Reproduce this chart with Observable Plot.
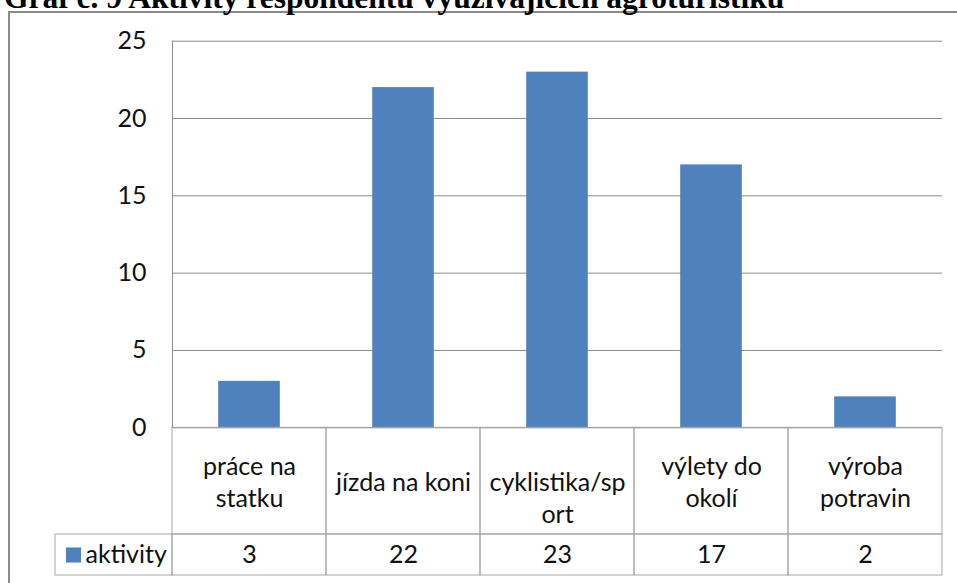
<!DOCTYPE html>
<html>
<head>
<meta charset="utf-8">
<script src="https://cdn.jsdelivr.net/npm/d3@7"></script>
<script src="https://cdn.jsdelivr.net/npm/@observablehq/plot@0.6"></script>
<style>
  html, body { margin: 0; padding: 0; background: #fff; overflow: hidden; width: 957px; height: 583px; }
  #title { position: absolute; left: 4px; top: -18px; font-family: "Liberation Serif", serif; font-weight: bold; font-size: 31.5px; line-height: 1; white-space: nowrap; color: #000; z-index: 2; }
  #frame { position: absolute; left: 8px; top: 11px; width: 1100px; height: 700px; border-left: 2px solid #8a8a8a; border-top: 2px solid #8a8a8a; }
  #chart { position: absolute; left: 0; top: 0; }
</style>
</head>
<body>
<div id="frame"></div>
<div id="title">Graf č. 9 Aktivity respondentů využívajících agroturistiku</div>
<div id="chart"></div>
<script>
const categories = ["práce na statku", "jízda na koni", "cyklistika/sport", "výlety do okolí", "výroba potravin"];
const categoryLabels = ["práce na\nstatku", "jízda na koni", "\ncyklistika/sp\nort", "výlety do\nokolí", "výroba\npotravin"];
const values = [3, 22, 23, 17, 2];
const seriesName = "aktivity";
const yTicks = [0, 5, 10, 15, 20, 25];

const rows = categories.map((c, i) => ({cat: c, label: categoryLabels[i], value: values[i]}));

const barColor = "#4F81BD";
const gridColor = "#8c8c8c";
const tableColor = "#a6a6a6";

const W = 957, H = 583;
const mTop = 40.7, mBottom = 155.7, mLeft = 172, mRight = 15;
const catRowH = 106.7, dataRowH = 41, legendW = 117;
const bw = (W - mLeft - mRight) / categories.length;

const plot = Plot.plot({
  width: W,
  height: H,
  marginTop: mTop,
  marginBottom: mBottom,
  marginLeft: mLeft,
  marginRight: mRight,
  style: {fontFamily: "Lato", fontSize: "25px", background: "transparent", overflow: "visible", color: "#111"},
  x: {domain: categories, padding: 0, axis: null},
  y: {domain: [0, 25], ticks: yTicks, tickSize: 0, tickPadding: 26, label: null, tickFormat: d => String(d)},
  marks: [
    Plot.ruleY(yTicks, {stroke: gridColor, strokeWidth: 1}),
    Plot.barY(rows, {x: "cat", y: "value", fill: barColor, insetLeft: bw * 0.3, insetRight: bw * 0.3}),
    // table: category row
    Plot.barY(rows, {x: "cat", y1: 0, y2: 0, insetBottom: -catRowH, fill: "none", stroke: tableColor}),
    // table: data row
    Plot.barY(rows, {x: "cat", y1: 0, y2: 0, insetTop: catRowH, insetBottom: -(catRowH + dataRowH), fill: "none", stroke: tableColor}),
    // legend cell
    Plot.barY([categories[0]], {x: d => d, y1: 0, y2: 0, insetTop: catRowH, insetBottom: -(catRowH + dataRowH), insetLeft: -legendW, insetRight: bw, fill: "none", stroke: tableColor}),
    // left vertical axis line
    Plot.ruleX([categories[0]], {dx: -bw / 2, stroke: gridColor}),
    Plot.text(rows, {x: "cat", text: "label", frameAnchor: "bottom", dy: catRowH / 2, lineAnchor: "middle", lineHeight: 1.28, fill: "#111"}),
    Plot.text(rows, {x: "cat", text: d => String(d.value), frameAnchor: "bottom", dy: catRowH + dataRowH / 2, lineAnchor: "middle", fill: "#111"}),
    Plot.dot([seriesName], {frameAnchor: "bottom-left", dx: -99, dy: catRowH + dataRowH / 2, symbol: "square", r: 8.5, fill: barColor, stroke: "none"}),
    Plot.text([seriesName], {text: d => d, frameAnchor: "bottom-left", dx: -87, dy: catRowH + dataRowH / 2, textAnchor: "start", lineAnchor: "middle", fill: "#111"})
  ]
});
document.getElementById("chart").appendChild(plot);
</script>
</body>
</html>
